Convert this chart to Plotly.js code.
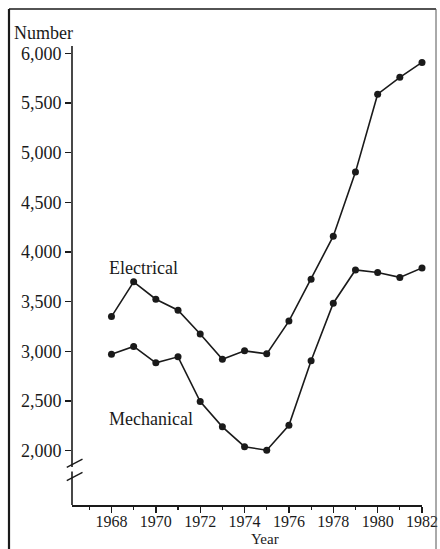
<!DOCTYPE html>
<html>
<head>
<meta charset="utf-8">
<script src="https://cdn.plot.ly/plotly-3.0.1.min.js"></script>
<style>html,body{margin:0;padding:0;background:#fff;}</style>
</head>
<body>
<div id="chart" style="width:440px;height:549px;"></div>
<script>
const years = [1968,1969,1970,1971,1972,1973,1974,1975,1976,1977,1978,1979,1980,1981,1982];
const electrical = [3350,3700,3525,3415,3175,2920,3005,2975,3305,3725,4160,4805,5590,5760,5910];
const mechanical = [2970,3050,2885,2945,2495,2240,2040,2005,2255,2905,3485,3820,3795,3745,3840];
const yTickVals = [2000,2500,3000,3500,4000,4500,5000,5500,6000];
const xTickVals = [1968,1970,1972,1974,1976,1978,1980,1982];
const seriesNames = ['Electrical','Mechanical'];

const FONT = 'Liberation Serif, Times New Roman, serif';
const INK = '#1a1a1a';
const yMin = 1453, yMax = 6075;
const xMin = 1966.22, xMax = 1982;

const lineStyle = {color: INK, width: 1.6};
const markerStyle = {color: INK, size: 7};

const traces = [
  {x: years, y: electrical, name: seriesNames[0], mode: 'lines+markers', line: lineStyle, marker: markerStyle, cliponaxis: false},
  {x: years, y: mechanical, name: seriesNames[1], mode: 'lines+markers', line: lineStyle, marker: markerStyle, cliponaxis: false}
];

const shapes = [
  // y axis line with a break
  {type:'line', xref:'paper', yref:'y', x0:0, x1:0, y0:yMin, y1:1790, line:{color:INK, width:1.6}},
  {type:'line', xref:'paper', yref:'y', x0:0, x1:0, y0:1835, y1:yMax, line:{color:INK, width:1.6}},
  // break slashes
  {type:'line', xref:'paper', yref:'y', x0:-0.015, x1:0.030, y0:1833, y1:1916, line:{color:INK, width:1.4}},
  {type:'line', xref:'paper', yref:'y', x0:-0.015, x1:0.030, y0:1698, y1:1782, line:{color:INK, width:1.4}},
  // outer frame
  {type:'line', xref:'paper', yref:'paper', x0:-0.180, x1:-0.180, y0:-0.12, y1:1.0806, line:{color:INK, width:2.2}},
  {type:'line', xref:'paper', yref:'paper', x0:-0.180, x1:1.040, y0:1.0806, y1:1.0806, line:{color:INK, width:1.6}},
  {type:'line', xref:'paper', yref:'paper', x0:1.040, x1:1.040, y0:-0.12, y1:1.0806, line:{color:'#555', width:1}}
];

const annotations = [
  {text: seriesNames[0], xref:'x', yref:'y', x:1967.8, y:3840, xanchor:'left', yanchor:'middle', showarrow:false, font:{family:FONT, size:18, color:INK}},
  {text: seriesNames[1], xref:'x', yref:'y', x:1967.8, y:2320, xanchor:'left', yanchor:'middle', showarrow:false, font:{family:FONT, size:18, color:INK}},
  {text: 'Number', xref:'paper', yref:'paper', x:-0.172, y:1.028, xanchor:'left', yanchor:'middle', showarrow:false, font:{family:FONT, size:18, color:INK}},
  {text: 'Year', xref:'x', yref:'paper', x:1974.9, y:-0.073, xanchor:'center', yanchor:'middle', showarrow:false, borderpad:0, font:{family:FONT, size:15, color:INK}}
];

const layout = {
  width: 440, height: 549,
  margin: {l:72, r:18, t:46, b:44},
  paper_bgcolor: '#fff', plot_bgcolor: '#fff',
  showlegend: false,
  font: {family: FONT, size: 18, color: INK},
  xaxis: {
    range: [xMin, xMax], showgrid: false, zeroline: false,
    showline: true, linecolor: INK, linewidth: 1.6,
    tickmode: 'array', tickvals: xTickVals, ticktext: xTickVals.map(String),
    ticks: 'outside', ticklen: 6, tickwidth: 1.4, tickcolor: INK,
    ticklabelstandoff: -5,
    minor: {tickmode:'linear', tick0: 1967, dtick: 2, ticks:'outside', ticklen: 3, tickwidth: 1.2, tickcolor: INK},
    tickfont: {family: FONT, size: 16, color: INK}
  },
  yaxis: {
    range: [yMin, yMax], showgrid: false, zeroline: false,
    showline: false,
    tickmode: 'array', tickvals: yTickVals, ticktext: yTickVals.map(v => v.toLocaleString('en-US')),
    ticks: 'outside', ticklen: 6, tickwidth: 1.4, tickcolor: INK,
    tickfont: {family: FONT, size: 18, color: INK}
  },
  shapes: shapes,
  annotations: annotations
};

Plotly.newPlot('chart', traces, layout, {staticPlot: true, displayModeBar: false});
</script>
</body>
</html>
